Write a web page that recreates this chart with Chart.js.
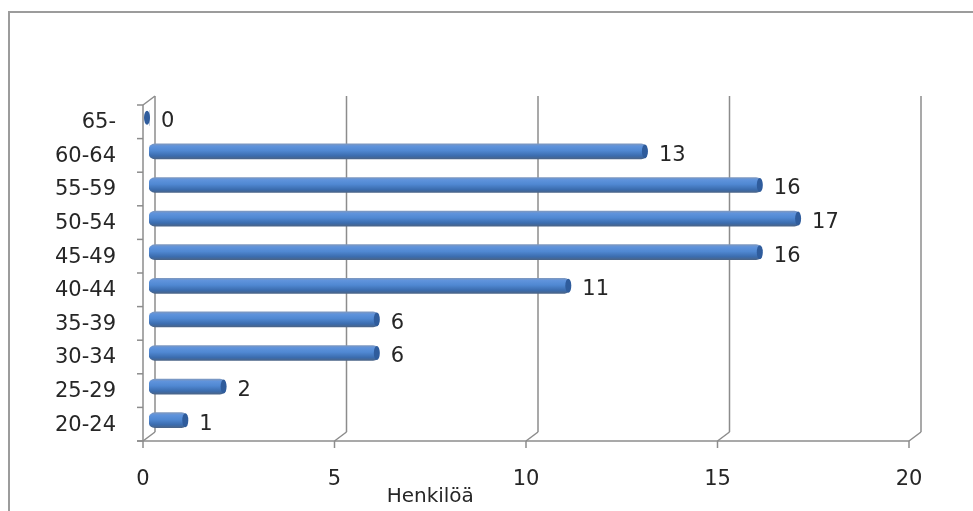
<!DOCTYPE html>
<html>
<head>
<meta charset="utf-8">
<title>Henkilöä ikäryhmittäin</title>
<script src="https://cdn.jsdelivr.net/npm/chart.js@4.4.1/dist/chart.umd.min.js"></script>
<style>
  html, body { margin:0; padding:0; background:#fff; overflow:hidden; }
  #wrap { position:relative; width:973px; height:511px; }
  #frame {
    position:absolute; left:8px; top:11px; width:2000px; height:2000px;
    border-top:2px solid #9c9c9c; border-left:2px solid #9c9c9c;
    pointer-events:none;
  }
  canvas { position:absolute; left:0; top:0; }
</style>
</head>
<body>
<div id="wrap">
  <div id="frame"></div>
  <canvas id="chart" width="973" height="511"></canvas>
</div>
<script>
/********************
 * Data
 ********************/
const ageGroups = ["20-24","25-29","30-34","35-39","40-44","45-49","50-54","55-59","60-64","65-"];
const persons   = [1, 2, 6, 6, 11, 16, 17, 16, 13, 0];
const xTicks    = [0, 5, 10, 15, 20];
const axisTitle = "Henkilöä";

const FONT = "'DejaVu Sans', Verdana, sans-serif";
const TEXT = "#262626";
const LINE = "#8c8c8c";
const BAR_H = 15;

// depth offsets of the fake 3D box (bars sit in the middle)
const BACK  = { x: 6,  y: -5 };
const FRONT = { x: -6, y: 4 };

function barGradient(c){
  const chart = c.chart;
  const ys = chart.scales.y;
  if(!ys || c.dataIndex == null) return "#4f81bd";
  const y = ys.getPixelForValue(c.dataIndex);
  if(!Number.isFinite(y)) return "#4f81bd";
  const g = chart.ctx.createLinearGradient(0, y - BAR_H / 2, 0, y + BAR_H / 2);
  g.addColorStop(0, "#7d98c0");
  g.addColorStop(0.15, "#5f93dc");
  g.addColorStop(0.45, "#5088d2");
  g.addColorStop(0.8, "#3b6cae");
  g.addColorStop(1, "#4a6488");
  return g;
}

/********************
 * 3D box: walls, floor, front axis
 ********************/
const boxPlugin = {
  id: "box3d",
  beforeDatasetsDraw(chart){
    const { ctx, chartArea: a } = chart;
    const xs = chart.scales.x, ys = chart.scales.y;
    ctx.save();
    ctx.strokeStyle = LINE;
    ctx.lineWidth = 1.5;
    const line = (x1, y1, x2, y2) => { ctx.beginPath(); ctx.moveTo(x1, y1); ctx.lineTo(x2, y2); ctx.stroke(); };

    xTicks.forEach(v => {
      const p = xs.getPixelForValue(v);
      line(p + BACK.x, a.top + BACK.y, p + BACK.x, a.bottom + BACK.y);
      line(p + BACK.x, a.bottom + BACK.y, p + FRONT.x, a.bottom + FRONT.y);
      line(p + FRONT.x, a.bottom + FRONT.y, p + FRONT.x, a.bottom + FRONT.y + 7);
    });

    const fl = a.left + FRONT.x;
    const fr = xs.getPixelForValue(xTicks[xTicks.length - 1]) + FRONT.x;
    line(fl - 6, a.bottom + FRONT.y, fr, a.bottom + FRONT.y);
    line(fl, a.top + FRONT.y, fl, a.bottom + FRONT.y);
    line(fl, a.top + FRONT.y, a.left + BACK.x, a.top + BACK.y);

    for(let i = 0; i <= ageGroups.length; i++){
      const y = ys.getPixelForValue(i - 0.5) + FRONT.y;
      line(fl, y, fl - 6, y);
    }

    // axis title
    ctx.fillStyle = TEXT;
    ctx.font = "20px " + FONT;
    ctx.textAlign = "center";
    ctx.textBaseline = "middle";
    const tx = (xs.getPixelForValue(5) + xs.getPixelForValue(10)) / 2 + FRONT.x;
    ctx.fillText(axisTitle, tx, 497);
    ctx.restore();
  },
  afterDatasetsDraw(chart){
    const { ctx } = chart;
    const meta = chart.getDatasetMeta(0);
    ctx.save();
    meta.data.forEach((el, i) => {
      const h = el.height / 2;
      // rounded end cap, darker
      ctx.beginPath();
      ctx.ellipse(el.x - 2, el.y, 3, h - 0.5, 0, 0, Math.PI * 2);
      ctx.fillStyle = "#2f5c9c";
      ctx.fill();

      // value label
      ctx.fillStyle = TEXT;
      ctx.font = "21px " + FONT;
      ctx.textAlign = "left";
      ctx.textBaseline = "middle";
      ctx.fillText(String(persons[i]), el.x + 12, el.y + 4);
    });
    ctx.restore();
  }
};

new Chart(document.getElementById("chart"), {
  type: "bar",
  data: {
    labels: ageGroups,
    datasets: [{
      label: axisTitle,
      data: persons,
      backgroundColor: barGradient,
      borderWidth: 0,
      borderRadius: 6,
      borderSkipped: false,
      barThickness: BAR_H
    }]
  },
  options: {
    indexAxis: "y",
    responsive: false,
    animation: false,
    layout: { padding: { left: 0, top: 101, right: 58, bottom: 0 } },
    plugins: { legend: { display: false }, tooltip: { enabled: false } },
    scales: {
      x: {
        min: 0, max: 20,
        afterBuildTicks: s => { s.ticks = xTicks.map(v => ({ value: v })); },
        afterFit: s => { s.height = 74; },
        grid: { display: false, drawTicks: false },
        border: { display: false },
        ticks: { labelOffset: FRONT.x, padding: 30, color: TEXT, font: { family: FONT, size: 21 } }
      },
      y: {
        reverse: true,
        afterFit: s => { s.width = 149; },
        grid: { display: false, drawTicks: false },
        border: { display: false },
        ticks: { labelOffset: 5, padding: 33, color: TEXT, font: { family: FONT, size: 21 } }
      }
    }
  },
  plugins: [boxPlugin]
});
</script>
</body>
</html>
